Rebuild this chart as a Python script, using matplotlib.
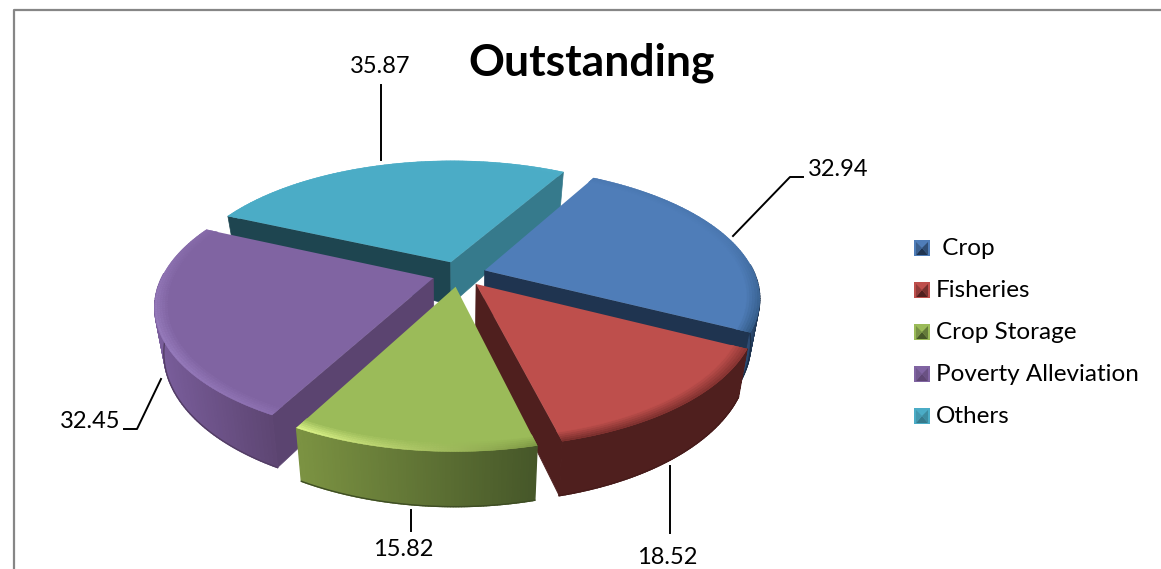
import numpy as np
import matplotlib
matplotlib.use('Agg')
import matplotlib.pyplot as plt
from matplotlib.collections import PolyCollection
from matplotlib.colors import to_rgb

categories = ['Crop', 'Fisheries', 'Crop Storage', 'Poverty Alleviation', 'Others']
legend_labels = [' Crop', 'Fisheries', 'Crop Storage', 'Poverty Alleviation', 'Others']
values = [32.94, 18.52, 15.82, 32.45, 35.87]

top_colors = ['#4F7DB8', '#BE4F4C', '#9BBB59', '#8064A2', '#4BACC6']
rim_left = ['#2F5680', '#7A2F2D', '#DDF58A', '#A88ED0', '#5FBDD5']
rim_right = ['#3A6596', '#8A3533', '#7F9A45', '#8C70B0', '#4BACC6']
wall_left = ['#2E4F78', '#4F1F1E', '#7C9342', '#7A5E9C', '#3F8FA5']
wall_right = ['#1F3450', '#4F1F1E', '#465729', '#5E4673', '#367A8C']
start_side = ['#1F3450', '#4F1F1E', '#4F6130', '#5B4470', '#1E4550']
end_side = ['#1F3450', '#4F1F1E', '#4F6130', '#5B4470', '#367A8C']

# label, leader line points
label_pos = [(838, 169), (667, 557), (403, 549), (90, 421), (380, 66)]
leaders = [[(733, 236), (790, 177), (803, 177)],
           [(670, 466), (670, 533)],
           [(411, 510), (411, 531)],
           [(161, 379), (137, 429), (124, 429)],
           [(381, 160), (381, 85)]]
legend_y = [248, 290, 332, 374, 416]

CX, CY = 459, 274
RX, RY = 270, 126
PERSP = 0.2
THICK = 43
EXPLODE = 0.1
START = 60.5


def project(x, y, bottom=False):
    w = 1 + PERSP * y
    sx = CX + RX * x / w
    sy = CY - RY * y / w
    if bottom:
        sx = CX + (sx - CX) * 0.97
        sy = sy + THICK / w
    return np.column_stack([sx, sy])


def mix(c1, c2, t):
    c1, c2 = np.array(to_rgb(c1)), np.array(to_rgb(c2))
    return tuple(c1 + (c2 - c1) * t)


def draw_wedge(ax, i, a0, a1, z):
    mid = np.radians((a0 + a1) / 2)
    ox, oy = EXPLODE * np.cos(mid), EXPLODE * np.sin(mid)
    th = np.radians(np.linspace(a0, a1, 90))
    arc_x, arc_y = ox + np.cos(th), oy + np.sin(th)

    # cut faces, only the ones turned towards the viewer
    if np.sin(np.radians(a0 + 90)) < 0:
        xs, ys = np.array([arc_x[0], ox]), np.array([arc_y[0], oy])
        poly = np.vstack([project(xs, ys), project(xs, ys, True)[::-1]])
        ax.fill(poly[:, 0], poly[:, 1], color=start_side[i], lw=0.5, zorder=z)
    if np.sin(np.radians(a1 - 90)) < 0:
        xs, ys = np.array([arc_x[-1], ox]), np.array([arc_y[-1], oy])
        poly = np.vstack([project(xs, ys), project(xs, ys, True)[::-1]])
        ax.fill(poly[:, 0], poly[:, 1], color=end_side[i], lw=0.5, zorder=z)

    # outer wall, shaded in slices left to right
    front = np.sin(th) < 0.05
    top = project(arc_x, arc_y)
    low = project(arc_x, arc_y, True)
    quads, cols = [], []
    if front.any():
        xmin, xmax = top[front, 0].min(), top[front, 0].max()
        for k in range(len(th) - 1):
            if front[k] and front[k + 1]:
                quads.append([top[k], top[k + 1], low[k + 1], low[k]])
                cols.append(mix(wall_left[i], wall_right[i], (top[k, 0] - xmin) / max(xmax - xmin, 1)))
        ax.add_collection(PolyCollection(quads, facecolors=cols, edgecolors=cols, linewidths=1.0, zorder=z))
        # darker lip at the foot of the wall
        ax.plot(low[front, 0], low[front, 1], color=mix(wall_right[i], '#000000', 0.12), lw=1.0, zorder=z)

    # top face
    pts = project(np.r_[ox, arc_x], np.r_[oy, arc_y])
    ax.fill(pts[:, 0], pts[:, 1], color=top_colors[i], lw=0, zorder=z + 0.1)

    # bevel along the rim, bands from the edge inwards
    radii = np.linspace(1.0, 0.945, 7)
    quads, cols = [], []
    for b in range(len(radii) - 1):
        outer = project(ox + radii[b] * np.cos(th), oy + radii[b] * np.sin(th))
        inner = project(ox + radii[b + 1] * np.cos(th), oy + radii[b + 1] * np.sin(th))
        for k in range(len(th) - 1):
            facing = min(max(-np.sin(th[k]) + 0.45, 0.2), 1)
            edge = mix(rim_right[i], rim_left[i], k / (len(th) - 2))
            quads.append([outer[k], outer[k + 1], inner[k + 1], inner[k]])
            cols.append(mix(edge, top_colors[i], 1 - (1 - b / (len(radii) - 2)) * facing))
    ax.add_collection(PolyCollection(quads, facecolors=cols, edgecolors=cols, linewidths=0.3, zorder=z + 0.2))


def legend_square(ax, i, y):
    x0, x1, y0, y1 = 914, 930, y - 8, y + 8
    xc, yc = (x0 + x1) / 2, (y0 + y1) / 2
    ax.fill([x0, x1, x1, x0], [y0, y0, y1, y1], color=top_colors[i], lw=0, zorder=30)
    ax.fill([x0 + 2, x1 - 2, xc], [y1 - 1, y1 - 1, yc], color=wall_right[i], lw=0, zorder=31)
    ax.fill([x1 - 2, x1 - 2, xc], [y0 + 2, y1 - 1, yc], color=mix(wall_right[i], top_colors[i], 0.35), lw=0, zorder=31)
    ax.fill([x0 + 2, x0 + 2, xc], [y0 + 2, y1 - 1, yc], color=mix(wall_right[i], top_colors[i], 0.6), lw=0, zorder=31)


plt.rcParams['font.family'] = ['Lato', 'DejaVu Sans']
fig = plt.figure(figsize=(11.61, 5.69), dpi=100)
ax = fig.add_axes([0, 0, 1, 1])
ax.set_xlim(0, 1161)
ax.set_ylim(569, 0)
ax.axis('off')

# frame of the chart area, it runs off the crop at right and bottom
ax.plot([14, 14, 1161], [569, 10, 10], color='#868686', lw=1.6, zorder=1)

sweep = 360 * np.array(values) / sum(values)
ends = START - np.cumsum(sweep)
starts = ends + sweep
mids = np.radians((starts + ends) / 2)
order = np.argsort(-np.sin(mids))
for n, i in enumerate(order):
    draw_wedge(ax, i, starts[i], ends[i], 5 + n)

for i in range(len(values)):
    xs, ys = zip(*leaders[i])
    ax.plot(xs, ys, color='black', lw=1.4, zorder=20)
    ax.text(label_pos[i][0], label_pos[i][1], f'{values[i]:.2f}', fontsize=17,
            ha='center', va='center', color='black', zorder=21)
    legend_square(ax, i, legend_y[i])
    ax.text(936, legend_y[i], legend_labels[i], fontsize=17.5, ha='left', va='center',
            color='black', zorder=21)

ax.text(592, 63, 'Outstanding', fontsize=32, fontweight='bold', ha='center', va='center',
        color='black', zorder=21)

fig.savefig('out.png', dpi=100)
